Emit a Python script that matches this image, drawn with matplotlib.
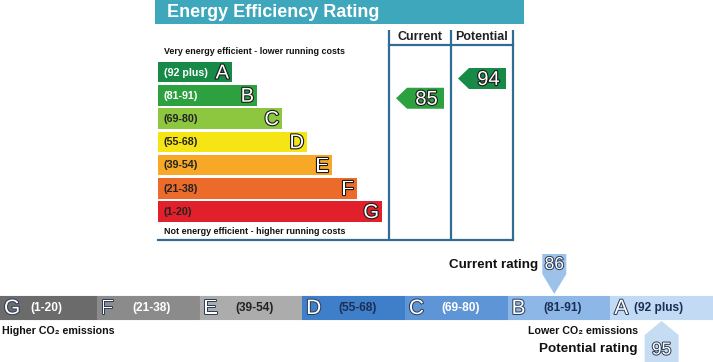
import matplotlib
matplotlib.use("Agg")
import matplotlib.pyplot as plt
import matplotlib.patheffects as pe
from matplotlib.patches import Polygon, Rectangle
import numpy as np

plt.rcParams['font.family'] = ['Liberation Sans', 'DejaVu Sans']

# ---------------- data ----------------
bands = ['A', 'B', 'C', 'D', 'E', 'F', 'G']
ranges = ['(92 plus)', '(81-91)', '(69-80)', '(55-68)', '(39-54)', '(21-38)', '(1-20)']
band_low = [92, 81, 69, 55, 39, 21, 1]
eer_colors = ['#168a46', '#2da140', '#8dc63f', '#f6e514', '#f6a826', '#ec6a2a', '#e2202b']
current_eer = 85
potential_eer = 94

co2_bands = ['G', 'F', 'E', 'D', 'C', 'B', 'A']
co2_ranges = ['(1-20)', '(21-38)', '(39-54)', '(55-68)', '(69-80)', '(81-91)', '(92 plus)']
co2_edges = [1, 21, 39, 55, 69, 81, 92, 98]
co2_colors = ['#6b6b6b', '#8b8b8b', '#acacac', '#3f7ec8', '#5e95d6', '#8cb7e7', '#c2daf3']
co2_label_colors = ['white', 'white', '#222222', '#1b2f55', 'white', '#1b2f55', '#1b2f55']
current_ei = 86
potential_ei = 95

# ---------------- figure ----------------
fig = plt.figure(figsize=(7.13, 3.62), dpi=100)
ax = fig.add_axes([0, 0, 1, 1])
ax.set_xlim(0, 713)
ax.set_ylim(362, 0)
ax.axis('off')

outline = [pe.withStroke(linewidth=1.6, foreground='#1a1a1a')]

# title bar
ax.add_patch(Rectangle((155, 0), 369, 24, color='#3fa7bb', lw=0))
ax.text(167, 12.5, 'Energy Efficiency Rating', color='white', fontsize=13,
        fontweight='bold', va='center', ha='left')

# frame
fc = '#2f6d92'
for x in [389, 451, 513]:
    ax.plot([x, x], [30, 240], color=fc, lw=1.6, solid_capstyle='butt')
ax.plot([389, 513], [45, 45], color=fc, lw=1.6)
ax.plot([158, 513], [240, 240], color=fc, lw=1.6)
ax.text(420, 37.5, 'Current', fontsize=9, fontweight='bold', ha='center', va='center', color='#222222')
ax.text(482, 37.5, 'Potential', fontsize=9, fontweight='bold', ha='center', va='center', color='#222222')

ax.text(164, 52, 'Very energy efficient - lower running costs', fontsize=6.4,
        fontweight='bold', ha='left', va='center', color='#111111')
ax.text(164, 231, 'Not energy efficient - higher running costs', fontsize=6.4,
        fontweight='bold', ha='left', va='center', color='#111111')

# EER bars
idx = np.arange(len(bands))
yc = 72 + idx * 23.25
widths = 74 + 25 * idx
ax.barh(yc, widths, height=20.5, left=158, color=eer_colors, lw=0)
for i in idx:
    tcol = 'white' if i in (0, 1) else '#222222'
    ax.text(164, yc[i] + 0.5, ranges[i], fontsize=7.7, fontweight='bold', color=tcol,
            ha='left', va='center')
    ax.text(158 + widths[i] - 3, yc[i] + 1, bands[i], fontsize=14.5, color='white',
            ha='right', va='center', path_effects=outline)


def band_index(v):
    for i, lo in enumerate(band_low):
        if v >= lo:
            return i
    return len(band_low) - 1


def eer_arrow(value, col_left, col_right, dy):
    i = band_index(value)
    y = yc[i] + dy
    h = 21
    tip = col_left + 7
    body = tip + 11
    end = col_right - 7
    ax.add_patch(Polygon([(tip, y), (body, y - h / 2), (end, y - h / 2),
                          (end, y + h / 2), (body, y + h / 2)],
                         closed=True, color=eer_colors[i], lw=0))
    ax.text((body + end) / 2 + 1, y + 1, str(value), fontsize=14.5, color='white',
            ha='center', va='center', path_effects=outline)


eer_arrow(current_eer, 389, 451, 3)
eer_arrow(potential_eer, 451, 513, 6.5)

# ---------------- CO2 bar ----------------
seg_w = 102.7
lefts = 713 - (7 - np.arange(7)) * seg_w
bar_y = 307.5
ax.barh(bar_y, seg_w, height=23, left=lefts, color=co2_colors,
        edgecolor=co2_colors, lw=0.8)
ax.set_xlim(0, 713)
thin = [pe.withStroke(linewidth=1.4, foreground='#2a3a55')]
for i in range(7):
    ax.text(max(lefts[i], 0) + 4, bar_y + 1, co2_bands[i], fontsize=15,
            color='white', ha='left', va='center', path_effects=thin)
    off = 24 if i == 6 else 36
    ax.text(lefts[i] + off, bar_y + 0.5, co2_ranges[i], fontsize=8.6, fontweight='bold',
            color=co2_label_colors[i], ha='left', va='center')

edge_px = [lefts[i] for i in range(7)] + [713]


def co2_x(v):
    return np.interp(v, co2_edges, edge_px)


# current rating marker (above)
cx = co2_x(current_ei)
ax.add_patch(Polygon([(cx - 12, 254), (cx + 12, 254), (cx + 12, 274), (cx, 294), (cx - 12, 274)],
                     closed=True, color='#9cc2ea', lw=0))
ax.text(cx, 264.5, str(current_ei), fontsize=12.5, color='white', ha='center', va='center',
        path_effects=thin)
ax.text(cx - 16, 265, 'Current rating', fontsize=9.6, fontweight='bold', ha='right',
        va='center', color='#111111')

# potential rating marker (below)
px = co2_x(potential_ei)
ax.add_patch(Polygon([(px, 321), (px + 17, 335), (px + 17, 362), (px - 17, 362), (px - 17, 335)],
                     closed=True, color='#c6dcf2', lw=0))
ax.text(px, 350, str(potential_ei), fontsize=12.5, color='white', ha='center', va='center',
        path_effects=thin)
ax.text(px - 24, 349, 'Potential rating', fontsize=9.7, fontweight='bold', ha='right',
        va='center', color='#111111')
ax.text(px - 24, 331, 'Lower CO₂ emissions', fontsize=7.7, fontweight='bold', ha='right',
        va='center', color='#111111')
ax.text(2, 331, 'Higher CO₂ emissions', fontsize=7.7, fontweight='bold', ha='left',
        va='center', color='#111111')

fig.savefig('out.png', dpi=100)
